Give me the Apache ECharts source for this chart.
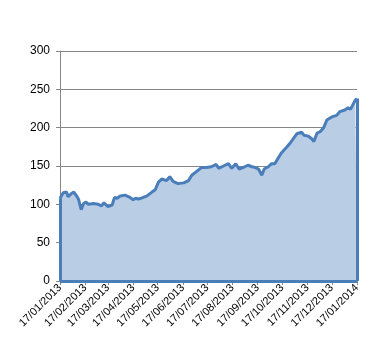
<!DOCTYPE html>
<html><head><meta charset="utf-8">
<script src="https://cdn.jsdelivr.net/npm/echarts@6/dist/echarts.min.js"></script>
<style>html,body{margin:0;padding:0;background:#fff}#c{width:380px;height:360px}</style>
</head><body><div id="c"></div>
<script>
// sampled day offsets from 17/01/2013 and values
var dayOffsets = [0,4,8,10,14,17,21,23,26,29,32,35,41,47,51,54,59,64,67,70,74,80,86,90,93,96,100,107,113,117,119,121,125,131,135,139,141,145,152,158,162,168,174,180,186,192,195,201,207,211,216,220,227,231,236,240,244,248,251,256,260,264,268,272,279,283,287,291,297,300,305,309,312,316,320,324,328,334,340,344,350,354,357,360,363,365];
var values = [108,115,116,110,114,116,110,106,93,101,103,100,101,100,98,102,97,99,109,108,111,112,109,106,108,107,108,111,116,119,119,129,133,131,136,130,132,127,128,131,138,143,148,148,149,152,147,150,153,147,153,146,149,151,149,148,146,138,146,149,153,153,160,167,175,180,186,192,194,190,189,186,182,193,195,200,210,214,216,221,223,226,224,230,236,238];
var yTicks = [0,50,100,150,200,250,300];
var startDate = new Date(Date.UTC(2013,0,17));
var endDate = new Date(Date.UTC(2014,0,17));

function fmt(d){
  var dd = String(d.getUTCDate()).padStart(2,'0');
  var mm = String(d.getUTCMonth()+1).padStart(2,'0');
  return dd+'/'+mm+'/'+d.getUTCFullYear();
}
var categories = [];
for (var t = startDate.getTime(); t <= endDate.getTime(); t += 86400000) categories.push(fmt(new Date(t)));
var seriesData = categories.map(function(){return null;});
dayOffsets.forEach(function(d,i){ seriesData[d] = values[i]; });
var isTick = function(idx, val){ return val.slice(0,2) === '17'; };

var firstCat = categories[dayOffsets[0]], lastCat = categories[dayOffsets[dayOffsets.length-1]];
var chart = echarts.init(document.getElementById('c'));
chart.setOption({
  animation:false,
  grid:{left:60,right:23,top:51,bottom:79},
  xAxis:{type:'category',data:categories,boundaryGap:false,
    axisLine:{lineStyle:{color:'#868686'}},
    axisTick:{show:true,interval:isTick,length:4,lineStyle:{color:'#868686'}},
    axisLabel:{interval:isTick,rotate:45,color:'#000',fontFamily:'Liberation Sans',fontSize:11,margin:5},
    splitLine:{show:false}},
  yAxis:{type:'value',min:yTicks[0],max:yTicks[yTicks.length-1],interval:50,
    axisLine:{show:true,lineStyle:{color:'#868686'}},
    axisTick:{show:true,length:4,lineStyle:{color:'#868686'}},
    axisLabel:{color:'#000',fontFamily:'Liberation Sans',fontSize:12,margin:10},
    splitLine:{lineStyle:{color:'#868686',width:1}}},
  series:[{type:'line',data:seriesData,connectNulls:true,showSymbol:false,symbol:'none',
    lineStyle:{color:'#4a7ebb',width:3},
    areaStyle:{color:'#b9cde5',opacity:1},
    markLine:{symbol:'none',silent:true,label:{show:false},lineStyle:{color:'#4a7ebb',width:3,type:'solid'},
      data:[
        [{coord:[firstCat,0]},{coord:[firstCat,values[0]]}],
        [{coord:[lastCat,0]},{coord:[lastCat,values[values.length-1]]}],
        [{coord:[firstCat,0]},{coord:[lastCat,0]}]
      ]}
  }]
});
</script></body></html>
